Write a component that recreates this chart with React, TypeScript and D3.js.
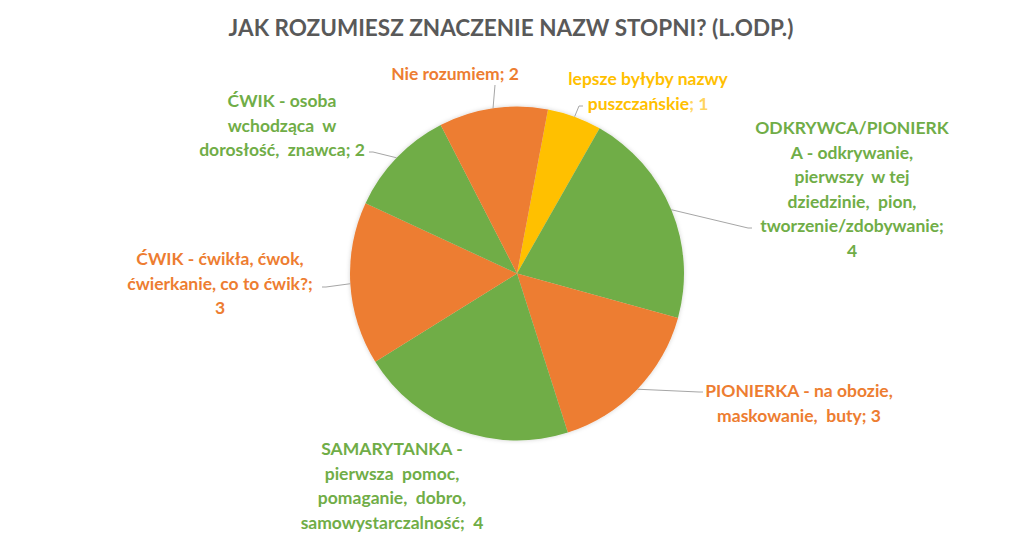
import React from 'react';
import * as d3 from 'd3';

// dane wykresu (kolejność zgodnie z ruchem wskazówek zegara)
const categories = [
  'lepsze byłyby nazwy puszczańskie',
  'ODKRYWCA/PIONIERKA - odkrywanie, pierwszy w tej dziedzinie, pion, tworzenie/zdobywanie',
  'PIONIERKA - na obozie, maskowanie, buty',
  'SAMARYTANKA - pierwsza pomoc, pomaganie, dobro, samowystarczalność',
  'ĆWIK - ćwikła, ćwok, ćwierkanie, co to ćwik?',
  'ĆWIK - osoba wchodząca w dorosłość, znawca',
  'Nie rozumiem',
];
const values = [1, 4, 3, 4, 3, 2, 2];

// tekst etykiet, podzielony na linie jak w oryginale
const labelLines = [
  ['lepsze byłyby nazwy', 'puszczańskie; 1'],
  ['ODKRYWCA/PIONIERK', 'A - odkrywanie,', 'pierwszy  w tej', 'dziedzinie,  pion,', 'tworzenie/zdobywanie;', '4'],
  ['PIONIERKA - na obozie,', 'maskowanie,  buty; 3'],
  ['SAMARYTANKA -', 'pierwsza  pomoc,', 'pomaganie,  dobro,', 'samowystarczalność;  4'],
  ['ĆWIK - ćwikła, ćwok,', 'ćwierkanie, co to ćwik?;', '3'],
  ['ĆWIK - osoba', 'wchodząca  w', 'dorosłość,  znawca; 2'],
  ['Nie rozumiem; 2'],
];

const title = 'JAK ROZUMIESZ ZNACZENIE NAZW STOPNI? (L.ODP.)';

const GREEN = '#70AD47';
const ORANGE = '#ED7D31';
const YELLOW = '#FFC000';
const sliceColors = [YELLOW, GREEN, ORANGE, GREEN, ORANGE, GREEN, ORANGE];

// rozmieszczenie etykiet (środek bloku tekstu, pierwsza linia) i koniec linii odniesienia
const labelLayout = [
  { x: 648, y: 78, lead: [583, 106] },
  { x: 852, y: 127, lead: [752, 228] },
  { x: 799, y: 390, lead: [703, 392] },
  { x: 392, y: 448, lead: null },
  { x: 220, y: 258, lead: [322, 287] },
  { x: 282, y: 100, lead: [369, 152] },
  { x: 455, y: 73, lead: [495, 85] },
];

const W = 1024;
const H = 554;
const cx = 517;
const cy = 273.5;
const radius = 167;
const lineH = 24.5;
const startDeg = 10.7;
const FONT = 'Lato, "Open Sans", sans-serif';

export default function App() {
  const pie = d3
    .pie<number>()
    .value((d) => d)
    .sort(null)
    .startAngle((startDeg * Math.PI) / 180)
    .endAngle((startDeg * Math.PI) / 180 + 2 * Math.PI);
  const arcs = pie(values);
  const arc = d3.arc<d3.PieArcDatum<number>>().innerRadius(0).outerRadius(radius);

  const edgePoint = (a: d3.PieArcDatum<number>) => {
    const mid = (a.startAngle + a.endAngle) / 2;
    return [radius * Math.sin(mid), -radius * Math.cos(mid)];
  };

  return (
    <svg
      width={W}
      height={H}
      viewBox={`0 0 ${W} ${H}`}
      style={{ position: 'absolute', left: 0, top: 0, background: '#fff' }}
    >
      <defs>
        <filter id="pieShadow" x="-10%" y="-10%" width="120%" height="120%">
          <feDropShadow dx="0" dy="0" stdDeviation="2" floodColor="#000" floodOpacity="0.18" />
        </filter>
      </defs>

      <text
        x={511}
        y={36}
        textAnchor="middle"
        fontFamily={FONT}
        fontWeight="bold"
        fontSize={22.5}
        fill="#595959"
      >
        {title}
      </text>

      <g transform={`translate(${cx},${cy})`} filter="url(#pieShadow)">
        {arcs.map((a, i) => (
          <path key={categories[i]} d={arc(a) || ''} fill={sliceColors[i]} />
        ))}
      </g>

      {/* linie odniesienia */}
      <g fill="none" stroke="#A6A6A6" strokeWidth={1}>
        {arcs.map((a, i) => {
          const lay = labelLayout[i];
          if (!lay.lead) return null;
          const [ex, ey] = edgePoint(a);
          const [lx, ly] = lay.lead;
          const right = lx > cx + ex;
          const kx = lx + (right ? -4 : 4);
          const path = d3.path();
          path.moveTo(lx, ly);
          if (Math.abs(lx - (cx + ex)) > 6) path.lineTo(kx, ly);
          path.lineTo(cx + ex, cy + ey);
          return <path key={`lead-${i}`} d={path.toString()} />;
        })}
      </g>

      {/* etykiety danych */}
      <g fontFamily={FONT} fontWeight="bold" fontSize={17.5} textAnchor="middle">
        {labelLines.map((lines, i) => {
          const lay = labelLayout[i];
          return (
            <text key={`lab-${i}`} fill={sliceColors[i]} dominantBaseline="central">
              {lines.map((ln, j) => {
                const isLast = j === lines.length - 1;
                const split = isLast && i === 0 ? ln.lastIndexOf(';') : -1;
                return (
                  <tspan key={j} x={lay.x} y={lay.y + j * lineH} xmlSpace="preserve" style={{ whiteSpace: 'pre' }}>
                    {split >= 0 ? (
                      <>
                        {ln.slice(0, split)}
                        <tspan fill="#FFD45E">{ln.slice(split)}</tspan>
                      </>
                    ) : (
                      ln
                    )}
                  </tspan>
                );
              })}
            </text>
          );
        })}
      </g>
    </svg>
  );
}
